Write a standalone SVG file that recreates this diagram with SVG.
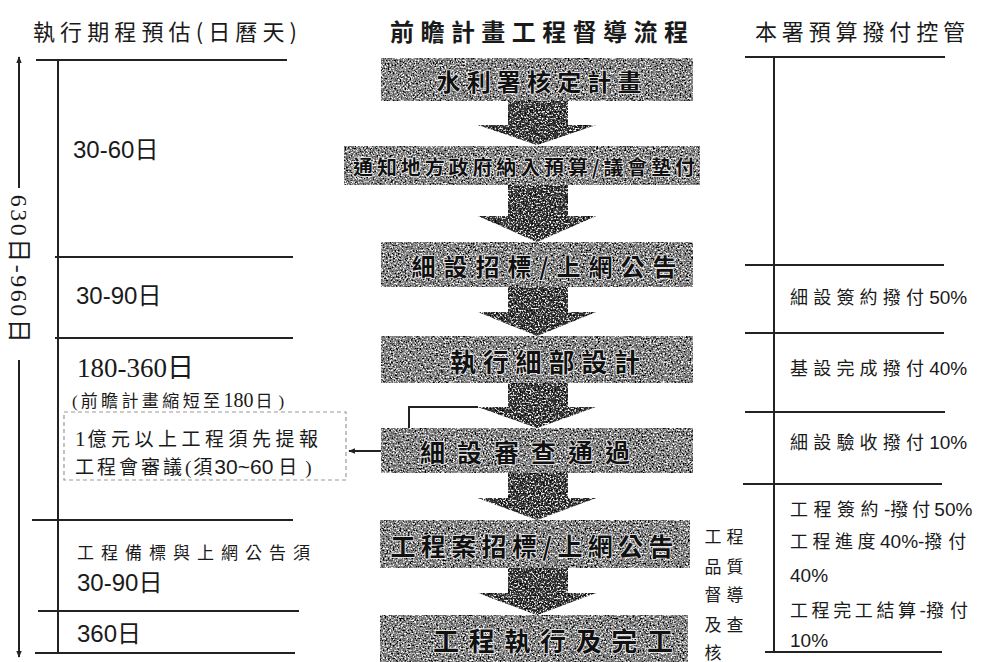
<svg xmlns="http://www.w3.org/2000/svg" width="985" height="662" viewBox="0 0 985 662">
<style>
.ln{stroke:#222;stroke-width:2;fill:none}
.cjk{font-family:"Noto Sans CJK TC","Noto Sans CJK SC",sans-serif;fill:#1a1a1a}
.num{font-family:"Liberation Sans","Noto Sans CJK TC",sans-serif;fill:#1a1a1a}
.ser{font-family:"Liberation Serif","Noto Sans CJK TC",serif;fill:#1a1a1a}
.d{font-family:"Liberation Sans",sans-serif;letter-spacing:0}
.ds{font-family:"Liberation Serif",serif;letter-spacing:0}
.box{fill:#878787;filter:url(#grain)}
.arw{fill:#3c3c3c;filter:url(#grain)}
.bt{font-family:"Noto Sans CJK TC",sans-serif;font-weight:700;fill:#111;stroke:#eee;stroke-width:1.6;paint-order:stroke;text-anchor:middle;dominant-baseline:central}
</style>
<defs>
<filter id="grain" x="0" y="0" width="100%" height="100%">
<feTurbulence type="fractalNoise" baseFrequency="0.6" numOctaves="2" seed="7" result="t"/>
<feColorMatrix in="t" type="matrix" values="0 0 0 0 0  0 0 0 0 0  0 0 0 0 0  5 0 0 0 -2.5" result="dk"/>
<feColorMatrix in="t" type="matrix" values="0 0 0 0 1  0 0 0 0 1  0 0 0 0 1  -5 0 0 0 2.3" result="lt"/>
<feComposite in="dk" in2="SourceAlpha" operator="in" result="dk2"/>
<feComposite in="lt" in2="SourceAlpha" operator="in" result="lt2"/>
<feMerge><feMergeNode in="SourceGraphic"/><feMergeNode in="dk2"/><feMergeNode in="lt2"/></feMerge>
</filter>
<marker id="ah" viewBox="0 0 10 10" refX="9" refY="5" markerWidth="7" markerHeight="7" orient="auto-start-reverse" markerUnits="userSpaceOnUse">
<path d="M0,1 L10,5 L0,9 Z" fill="#222"/>
</marker>
</defs>
<rect width="985" height="662" fill="#fff"/>

<g id="titles">
<text class="cjk" x="33" y="40" font-size="22" textLength="264" lengthAdjust="spacing">執行期程預估(日曆天)</text>
<text class="cjk" x="390" y="41" font-size="24" font-weight="700" textLength="298" lengthAdjust="spacing">前瞻計畫工程督導流程</text>
<text class="cjk" x="755" y="40" font-size="22" textLength="210" lengthAdjust="spacing">本署預算撥付控管</text>
</g>

<g id="connectors">
<line class="ln" x1="36" y1="60" x2="287" y2="60"/>
<line class="ln" x1="58" y1="60" x2="58" y2="654"/>
<line class="ln" x1="55" y1="257" x2="293" y2="257"/>
<line class="ln" x1="55" y1="338" x2="293" y2="338"/>
<line class="ln" x1="32" y1="520" x2="293" y2="520"/>
<line class="ln" x1="38" y1="611" x2="299" y2="611"/>
<line class="ln" x1="35" y1="653" x2="295" y2="653"/>
<line class="ln" x1="19" y1="188" x2="19" y2="57" marker-end="url(#ah)"/>
<line class="ln" x1="19" y1="360" x2="19" y2="657" marker-end="url(#ah)"/>
<line class="ln" x1="745" y1="57" x2="945" y2="57"/>
<line class="ln" x1="774" y1="57" x2="774" y2="652"/>
<line class="ln" x1="745" y1="265" x2="944" y2="265"/>
<line class="ln" x1="745" y1="333" x2="944" y2="333"/>
<line class="ln" x1="745" y1="412" x2="945" y2="412"/>
<line class="ln" x1="743" y1="484" x2="942" y2="484"/>
<line class="ln" x1="765" y1="652" x2="942" y2="652"/>
<path class="arw" d="M508,101 H568 V125 H596 L537,145 L478,125 H508 Z"/>
<path class="arw" d="M508,185 H568 V216 H596 L537,242 L478,216 H508 Z"/>
<path class="arw" d="M508,287 H568 V312 H596 L537,336 L478,312 H508 Z"/>
<path class="arw" d="M508,383 H568 V407 H596 L537,428 L478,407 H508 Z"/>
<path class="arw" d="M508,473 H568 V498 H596 L537,520 L478,498 H508 Z"/>
<path class="arw" d="M508,568 H568 V593 H596 L537,615 L478,593 H508 Z"/>
<path class="ln" d="M478,407 H409 V451 H349" marker-end="url(#ah)" stroke-width="1.8"/>
</g>

<g id="duration-label">
<text class="ser" font-size="24" letter-spacing="2.5" transform="translate(19,270) rotate(90)" text-anchor="middle" dominant-baseline="central">630日-960日</text>
</g>

<g id="left-periods">
<text class="num" x="73" y="158" font-size="24">30-60日</text>
<text class="num" x="76" y="304" font-size="24">30-90日</text>
<text class="ser" x="77" y="377" font-size="27">180-360日</text>
<text class="cjk" x="72" y="407" font-size="17"><tspan class="ds">(</tspan><tspan dx="3" letter-spacing="3.4">前瞻計畫縮短至</tspan><tspan class="ds" font-size="20">180</tspan><tspan dx="2">日</tspan><tspan class="ds" dx="6">)</tspan></text>
<text class="cjk" x="77" y="559" font-size="17" textLength="233" lengthAdjust="spacing">工程備標與上網公告須</text>
<text class="num" x="77" y="591" font-size="24">30-90日</text>
<text class="num" x="77" y="642" font-size="24">360日</text>
</g>

<g id="review-note">
<rect x="64" y="412" width="282" height="68" fill="none" stroke="#999" stroke-width="1.2" stroke-dasharray="4,3"/>
<text class="cjk" x="75" y="446" font-size="19"><tspan class="ds" font-size="21">1</tspan><tspan dx="2" letter-spacing="4.5">億元以上工程須先提報</tspan></text>
<text class="cjk" x="75" y="474" font-size="19"><tspan letter-spacing="3">工程會審議</tspan><tspan class="ds">(</tspan><tspan dx="2">須</tspan><tspan class="d" font-size="21" dx="2">30~60</tspan><tspan dx="5">日</tspan><tspan class="ds" dx="8">)</tspan></text>
</g>

<g id="step1"><rect class="box" x="381" y="58" width="312" height="43"/><text class="bt" x="539" y="80" font-size="24" textLength="205" lengthAdjust="spacing">水利署核定計畫</text></g>
<g id="step2"><rect class="box" x="344" y="146" width="356" height="39"/><text class="bt" x="524" y="166" font-size="20" textLength="342" lengthAdjust="spacing">通知地方政府納入預算/議會墊付</text></g>
<g id="step3"><rect class="box" x="381" y="242" width="312" height="45"/><text class="bt" x="544" y="265" font-size="24" textLength="265" lengthAdjust="spacing">細設招標/上網公告</text></g>
<g id="step4"><rect class="box" x="381" y="336" width="312" height="47"/><text class="bt" x="545" y="360" font-size="26" textLength="190" lengthAdjust="spacing">執行細部設計</text></g>
<g id="step5"><rect class="box" x="381" y="428" width="312" height="45"/><text class="bt" x="525" y="451" font-size="25" textLength="210" lengthAdjust="spacing">細設審查通過</text></g>
<g id="step6"><rect class="box" x="380" y="520" width="310" height="48"/><text class="bt" x="532" y="545" font-size="25" textLength="283" lengthAdjust="spacing">工程案招標/上網公告</text></g>
<g id="step7"><rect class="box" x="380" y="615" width="308" height="47"/><text class="bt" x="553" y="639" font-size="26" textLength="240" lengthAdjust="spacing">工程執行及完工</text></g>

<g id="quality-label">
<text class="cjk" font-size="17" text-anchor="middle" dominant-baseline="central">
<tspan x="713" y="535">工</tspan><tspan x="737" y="535">程</tspan>
<tspan x="713" y="565">品</tspan><tspan x="737" y="565">質</tspan>
<tspan x="713" y="593">督</tspan><tspan x="737" y="593">導</tspan>
<tspan x="713" y="623">及</tspan><tspan x="737" y="623">查</tspan>
<tspan x="713" y="651">核</tspan>
</text>
</g>

<g id="budget" class="cjk" font-size="18">
<text x="790" y="304"><tspan letter-spacing="5.2">細設簽約撥付</tspan><tspan class="d" font-size="19">50%</tspan></text>
<text x="790" y="375"><tspan letter-spacing="5.2">基設完成撥付</tspan><tspan class="d" font-size="19">40%</tspan></text>
<text x="790" y="449"><tspan letter-spacing="5.2">細設驗收撥付</tspan><tspan class="d" font-size="19">10%</tspan></text>
<text x="790" y="516"><tspan letter-spacing="5.5">工程簽約</tspan><tspan class="d" font-size="19">-</tspan><tspan letter-spacing="4">撥付</tspan><tspan class="d" font-size="19">50%</tspan></text>
<text x="790" y="548"><tspan letter-spacing="4.5">工程進度</tspan><tspan class="d" font-size="19">40%-</tspan><tspan letter-spacing="6">撥付</tspan></text>
<text class="num" x="790" y="582" font-size="19">40%</text>
<text x="790" y="617"><tspan letter-spacing="3.6">工程完工結算</tspan><tspan class="d" font-size="19">-</tspan><tspan letter-spacing="6">撥付</tspan></text>
<text class="num" x="790" y="647" font-size="19">10%</text>
</g>
</svg>
